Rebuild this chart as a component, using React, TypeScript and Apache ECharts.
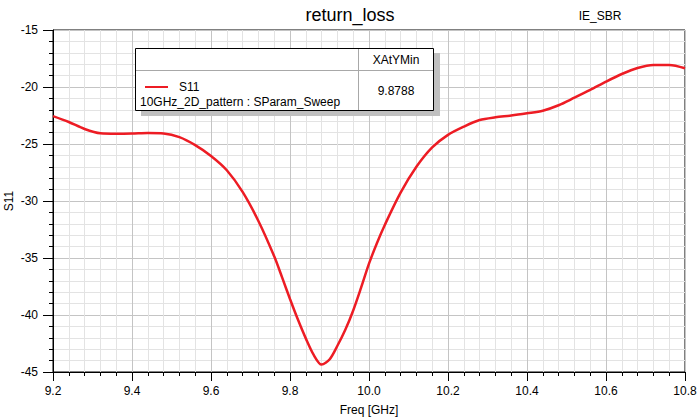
import React, { useEffect, useRef } from "react";
import * as echarts from "echarts";

const freqs = [
  9.2, 9.24, 9.28, 9.32, 9.36, 9.4, 9.44, 9.48, 9.52, 9.56, 9.6, 9.64, 9.68,
  9.72, 9.76, 9.78, 9.8, 9.82, 9.84, 9.86, 9.88, 9.9, 9.92, 9.94, 9.96, 9.98,
  10.0, 10.02, 10.04, 10.08, 10.12, 10.16, 10.2, 10.24, 10.28, 10.32, 10.36,
  10.4, 10.44, 10.48, 10.52, 10.56, 10.6, 10.64, 10.68, 10.72, 10.76, 10.8,
];
const s11 = [
  -22.55, -23.07, -23.68, -24.06, -24.1, -24.08, -24.03, -24.07, -24.4, -25.1,
  -26.05, -27.3, -29.2, -31.75, -34.85, -36.7, -38.6, -40.4, -42.05, -43.5,
  -44.35, -43.9, -42.7, -41.3, -39.6, -37.6, -35.5, -33.7, -32.1, -29.27,
  -27.0, -25.3, -24.2, -23.48, -22.9, -22.66, -22.51, -22.31, -22.08, -21.6,
  -20.94, -20.26, -19.53, -18.86, -18.33, -18.07, -18.07, -18.36,
];
const markerHeader = "XAtYMin";
const markerValue = "9.8788";
const seriesName = "S11";
const sourceName = "10GHz_2D_pattern : SParam_Sweep";

const FONT = "Liberation Sans, Arial, sans-serif";

export default function App() {
  const ref = useRef<HTMLDivElement>(null);
  useEffect(() => {
    const chart = echarts.init(ref.current!, null, { renderer: "svg" });
    chart.setOption({
      animation: false,
      backgroundColor: "#fff",
      textStyle: { fontFamily: FONT },
      title: [
        {
          text: "return_loss",
          left: 345,
          top: 1,
          textAlign: "center",
          textStyle: { fontSize: 18, fontWeight: "normal", color: "#000", fontFamily: FONT },
        },
        {
          text: "IE_SBR",
          left: 595,
          top: 5,
          textAlign: "center",
          textStyle: { fontSize: 12, fontWeight: "normal", color: "#000", fontFamily: FONT },
        },
      ],
      grid: {
        left: 53,
        right: 15,
        top: 30,
        bottom: 48,
        containLabel: false,
        outerBoundsMode: "none",
        show: true,
        borderColor: "#000",
        borderWidth: 1,
        backgroundColor: "#fff",
      },
      legend: {
        show: true,
        data: [seriesName],
        left: 140,
        top: 76,
        z: 10,
        itemWidth: 23,
        itemHeight: 2,
        icon: "rect",
        selectedMode: false,
        textStyle: { fontSize: 12, color: "#000", fontFamily: FONT, padding: [0, 0, 0, 6] },
      },
      xAxis: {
        type: "value",
        min: 9.2,
        max: 10.8,
        interval: 0.2,
        name: "Freq [GHz]",
        nameLocation: "middle",
        nameGap: 32,
        nameMoveOverlap: false,
        nameTextStyle: { fontSize: 12, color: "#000", fontFamily: FONT },
        axisLine: { show: true, lineStyle: { color: "#000", width: 1 } },
        axisTick: { show: true, inside: false, length: 9, lineStyle: { color: "#000" } },
        minorTick: { show: true, splitNumber: 5, length: 4, lineStyle: { color: "#000" } },
        axisLabel: {
          margin: 13,
          fontSize: 12,
          color: "#000",
          fontFamily: FONT,
          formatter: (v: number) => v.toFixed(1),
        },
        splitLine: { show: true, lineStyle: { color: "#c4c4c4", width: 1 } },
        minorSplitLine: { show: true, lineStyle: { color: "#e3e3e3", width: 1 } },
      },
      yAxis: {
        type: "value",
        min: -45,
        max: -15,
        interval: 5,
        name: "S11",
        nameLocation: "middle",
        nameRotate: 90,
        nameGap: 38,
        nameMoveOverlap: false,
        nameTextStyle: { fontSize: 12, color: "#000", fontFamily: FONT },
        axisLine: { show: true, lineStyle: { color: "#000", width: 1 } },
        axisTick: { show: true, inside: false, length: 10, lineStyle: { color: "#000" } },
        minorTick: { show: true, splitNumber: 5, length: 4, lineStyle: { color: "#000" } },
        axisLabel: { margin: 15, fontSize: 12, color: "#000", fontFamily: FONT },
        splitLine: { show: true, lineStyle: { color: "#c4c4c4", width: 1 } },
        minorSplitLine: { show: true, lineStyle: { color: "#e3e3e3", width: 1 } },
      },
      series: [
        {
          name: seriesName,
          type: "line",
          data: freqs.map((f, i) => [f, s11[i]]),
          smooth: 0.3,
          showSymbol: false,
          symbol: "none",
          color: "#ed1c24",
          lineStyle: { color: "#ed1c24", width: 2.5 },
          z: 3,
        },
      ],
      graphic: [
        {
          type: "rect",
          z: 8,
          shape: { x: 141, y: 53, width: 299, height: 63 },
          style: { fill: "#c0c0c0" },
        },
        {
          type: "rect",
          z: 8,
          shape: { x: 135.5, y: 48.5, width: 298, height: 62 },
          style: { fill: "#fff", stroke: "#000", lineWidth: 1 },
        },
        {
          type: "line",
          z: 9,
          shape: { x1: 136, y1: 70.5, x2: 433, y2: 70.5 },
          style: { stroke: "#a8a8a8", lineWidth: 1 },
        },
        {
          type: "line",
          z: 9,
          shape: { x1: 358.5, y1: 49, x2: 358.5, y2: 110 },
          style: { stroke: "#a8a8a8", lineWidth: 1 },
        },
        {
          type: "text",
          z: 9,
          x: 396,
          y: 60,
          style: {
            text: markerHeader,
            fill: "#000",
            font: `12px ${FONT}`,
            align: "center",
            verticalAlign: "middle",
          },
        },
        {
          type: "text",
          z: 9,
          x: 396,
          y: 91,
          style: {
            text: markerValue,
            fill: "#000",
            font: `12px ${FONT}`,
            align: "center",
            verticalAlign: "middle",
          },
        },
        {
          type: "text",
          z: 9,
          x: 140,
          y: 102,
          style: {
            text: sourceName,
            fill: "#000",
            font: `12px ${FONT}`,
            align: "left",
            verticalAlign: "middle",
          },
        },
      ],
    });
    return () => chart.dispose();
  }, []);
  return (
    <div
      ref={ref}
      style={{ position: "fixed", left: 0, top: 0, width: 700, height: 420 }}
    />
  );
}
